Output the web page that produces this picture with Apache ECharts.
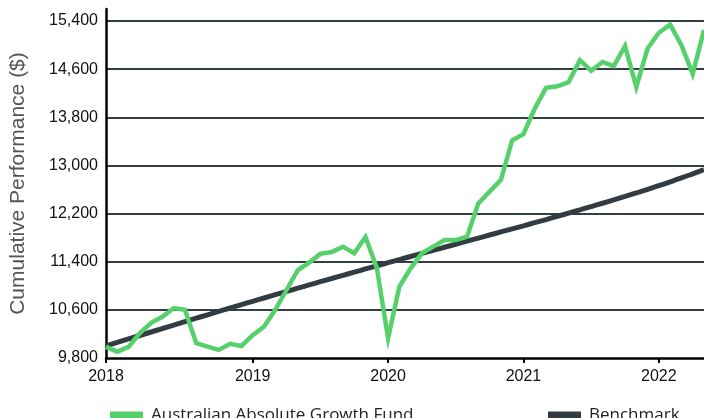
<!DOCTYPE html>
<html>
<head>
<meta charset="utf-8">
<script src="https://cdn.jsdelivr.net/npm/echarts@6/dist/echarts.min.js"></script>
<style>html,body{margin:0;padding:0;background:#fff;}#c{width:704px;height:418px;}</style>
</head>
<body>
<div id="c"></div>
<script>
// Month categories (index 0 = starting point, end of Dec 2017)
const months = ['2017-12','2018-01','2018-02','2018-03','2018-04','2018-05','2018-06','2018-07','2018-08','2018-09','2018-10','2018-11','2018-12',
  '2019-01','2019-02','2019-03','2019-04','2019-05','2019-06','2019-07','2019-08','2019-09','2019-10','2019-11','2019-12',
  '2020-01','2020-02','2020-03','2020-04','2020-05','2020-06','2020-07','2020-08','2020-09','2020-10','2020-11','2020-12',
  '2021-01','2021-02','2021-03','2021-04','2021-05','2021-06','2021-07','2021-08','2021-09','2021-10','2021-11','2021-12',
  '2022-01','2022-02','2022-03','2022-04','2022-05'];
// Year tick labels keyed by category
const yearTicks = {'2017-12':'2018','2019-01':'2019','2020-01':'2020','2021-01':'2021','2022-01':'2022'};

const fundName = 'Australian Absolute Growth Fund';
const benchName = 'Benchmark';

const fund = [9985,9905,9985,10215,10385,10485,10630,10600,10045,9990,9935,10035,10000,
  10180,10320,10600,10930,11260,11385,11530,11560,11650,11540,11810,11300,
  10130,10985,11290,11540,11650,11760,11760,11815,12370,12565,12760,13420,
  13520,13945,14290,14315,14385,14750,14575,14720,14650,14985,14305,14945,
  15205,15340,15000,14520,15250];

const bench = [10000,10058,10116,10174,10232,10290,10347,10404,10461,10518,10575,10631,10687,
  10742,10797,10852,10906,10960,11014,11068,11121,11174,11227,11280,11332,
  11384,11436,11487,11538,11589,11640,11691,11742,11793,11844,11895,11946,
  11997,12049,12101,12154,12208,12262,12317,12372,12428,12485,12543,12602,
  12664,12727,12792,12860,12930];

const yMin = 9800, yMax = 15600, yStep = 800;

const chart = echarts.init(document.getElementById('c'), null, {renderer:'canvas'});
chart.setOption({
  animation: false,
  backgroundColor: '#fff',
  grid: {left: 104, right: -6, top: 9, bottom: 60, containLabel: false},
  legend: [
    {data: [fundName], left: 105, top: 402, itemWidth: 33, itemHeight: 8, icon: 'rect',
     textStyle: {fontFamily: 'Open Sans', fontSize: 17, color: '#222', padding: [0,0,6,3]}},
    {data: [benchName], left: 543, top: 402, itemWidth: 33, itemHeight: 8, icon: 'rect',
     textStyle: {fontFamily: 'Open Sans', fontSize: 17, color: '#222', padding: [0,0,6,3]}}
  ],
  xAxis: {
    type: 'category', data: months, boundaryGap: false,
    axisLine: {lineStyle: {color: '#000', width: 2.5}},
    axisTick: {show: true, length: 5, lineStyle: {color: '#000', width: 2},
      interval: (i, v) => yearTicks[v] !== undefined},
    axisLabel: {interval: (i, v) => yearTicks[v] !== undefined, formatter: v => yearTicks[v] || '',
      fontFamily: 'Liberation Sans, Arial, sans-serif', fontSize: 16, color: '#111', margin: 11},
    splitLine: {show: false}
  },
  yAxis: {
    type: 'value', min: yMin, max: yMax, interval: yStep,
    name: 'Cumulative Performance ($)', nameLocation: 'middle', nameGap: 77,
    nameTextStyle: {fontFamily: 'Liberation Sans, Arial, sans-serif', fontSize: 21, color: '#555'},
    axisLine: {show: true, lineStyle: {color: '#000', width: 2.5}},
    axisTick: {show: false},
    axisLabel: {showMaxLabel: false, margin: 8, fontFamily: 'Liberation Sans, Arial, sans-serif', fontSize: 16, color: '#111',
      formatter: v => v >= yMax ? '' : v.toLocaleString('en-US')},
    splitLine: {show: true, showMinLine: false, showMaxLine: false, lineStyle: {color: '#333d44', width: 2}}
  },
  series: [
    {name: fundName, type: 'line', data: fund, symbol: 'none', z: 4,
     lineStyle: {color: '#55d06b', width: 4.5, join: 'miter'}, itemStyle: {color: '#55d06b'}},
    {name: benchName, type: 'line', data: bench, symbol: 'none', smooth: true, z: 3,
     lineStyle: {color: '#323c43', width: 5}, itemStyle: {color: '#323c43'}}
  ]
});
</script>
</body>
</html>
